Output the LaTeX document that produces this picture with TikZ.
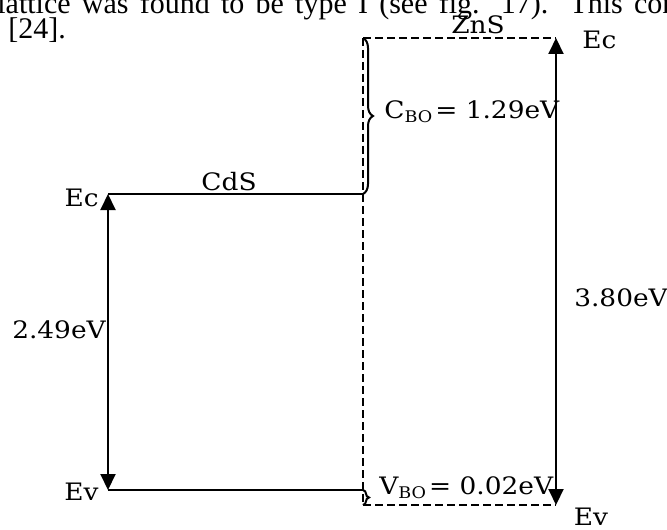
\documentclass[tikz,border=0pt]{standalone}
\usepackage{fontspec}
\newfontfamily\bandfont[FakeStretch=1.1]{DejaVu Serif}
\newfontfamily\pagefont{Liberation Serif}
\usepackage{tikz}
\usetikzlibrary{arrows.meta,decorations.pathreplacing}

\begin{document}
\begin{tikzpicture}[
  x=0.5pt, y=-0.5pt,
  font=\bandfont\fontsize{12}{14}\selectfont,
  level/.style={line width=1pt},
  offset/.style={line width=1pt, dash pattern=on 4pt off 2pt},
  gap/.style={{Triangle[length=8pt, width=7.5pt]}-{Triangle[length=8pt, width=7.5pt]}, line width=1pt},
  bandbrace/.style={decorate, decoration={brace, amplitude=#1}, line width=1pt},
  label/.style={inner sep=1pt},
  para/.style={anchor=base west, inner sep=0pt, font=\pagefont\fontsize{15}{17}\selectfont}
]
\useasboundingbox (0,0) rectangle (667,529);

% text of the page around the figure
\node[para] (line) at (-3,14) {\makebox[340pt][s]{lattice was found to be type I (see fig. 17). This con}};
\node[para] (cite) at (8,39) {[24].};

% band edges
\coordinate (cdsEc) at (108,194);
\coordinate (cdsEv) at (108,490);
\coordinate (ifEc) at (363,194);
\coordinate (ifEv) at (363,490);
\coordinate (ifTop) at (363,38);
\coordinate (ifBot) at (363,505);
\coordinate (znsEc) at (556,38);
\coordinate (znsEv) at (556,505);

% CdS (solid)
\draw[level] (cdsEc) -- (ifEc);
\draw[level] (cdsEv) -- (ifEv);
\draw[gap] (cdsEc) -- (cdsEv);

% ZnS (dashed)
\draw[offset] (ifTop) -- (ifBot);
\draw[offset] (ifTop) -- (znsEc);
\draw[offset] (ifBot) -- (znsEv);
\draw[gap] (znsEc) -- (znsEv);

% band offsets
\draw[bandbrace=5pt] (ifTop) -- (ifEc);
\draw[bandbrace=3pt] (ifEv) -- (ifBot);

% labels
\node[label] (cds) at (229,182) {CdS};
\node[label] (zns) at (478,25) {ZnS};
\node[label, anchor=east] (ecL) at (101,198) {Ec};
\node[label, anchor=east] (evL) at (101,492) {Ev};
\node[label, anchor=west] (ecR) at (580,40) {Ec};
\node[label] (evR) at (591,517) {Ev};
\node[label] (egCdS) at (59,330) {2.49eV};
\node[label] (egZnS) at (621,298) {3.80eV};
\node[label, anchor=west] (cbo) at (382,112) {C\textsubscript{BO}\kern1pt= 1.29eV};
\node[label, anchor=west] (vbo) at (377,488) {V\textsubscript{BO}\kern1pt= 0.02eV};

\end{tikzpicture}
\end{document}
